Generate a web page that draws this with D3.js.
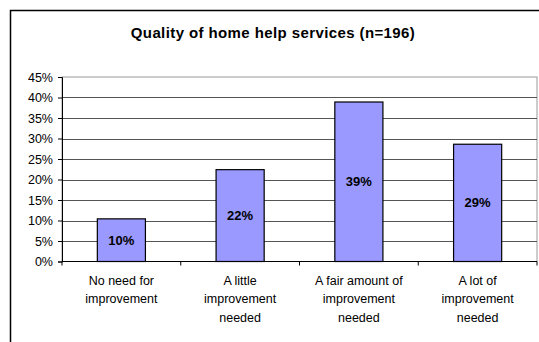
<!DOCTYPE html>
<html>
<head>
<meta charset="utf-8">
<script src="https://cdn.jsdelivr.net/npm/d3@7"></script>
<style>
  html, body { margin: 0; padding: 0; background: #fff; }
  svg { display: block; font-family: "Liberation Sans", Arial, sans-serif; }
</style>
</head>
<body>
<svg id="chart" width="539" height="342"></svg>
<script>
// Survey responses on home help services
const title = "Quality of home help services (n=196)";
const categories = [
  ["No need for", "improvement"],
  ["A little", "improvement", "needed"],
  ["A fair amount of", "improvement", "needed"],
  ["A lot of", "improvement", "needed"]
];
const shares = [0.104, 0.224, 0.389, 0.286];
const yTicks = [0, 0.05, 0.10, 0.15, 0.20, 0.25, 0.30, 0.35, 0.40, 0.45];

const svg = d3.select("#chart");
const plot = { left: 62, right: 537, top: 77, bottom: 261.5 };

// chart area frame (extends past the window on the right and bottom)
svg.append("rect")
  .attr("x", 10.5).attr("y", 10.5)
  .attr("width", 560).attr("height", 400)
  .attr("fill", "#fff").attr("stroke", "#000").attr("stroke-width", 1.5);

svg.append("text")
  .attr("x", 273).attr("y", 37.5)
  .attr("text-anchor", "middle")
  .attr("font-size", 15).attr("font-weight", "bold")
  .attr("letter-spacing", 0.4)
  .text(title);

const x = d3.scaleBand()
  .domain(d3.range(categories.length))
  .range([plot.left, plot.right]);

const y = d3.scaleLinear()
  .domain([0, 0.45])
  .range([plot.bottom, plot.top]);

// plot area border
svg.append("rect")
  .attr("x", plot.left).attr("y", plot.top)
  .attr("width", plot.right - plot.left).attr("height", plot.bottom - plot.top)
  .attr("fill", "none").attr("stroke", "#999").attr("stroke-width", 1);

// horizontal gridlines
svg.append("g")
  .selectAll("line")
  .data(yTicks.filter(t => t > 0 && t < 0.45))
  .join("line")
  .attr("x1", plot.left).attr("x2", plot.right)
  .attr("y1", d => Math.round(y(d)) + 0.5).attr("y2", d => Math.round(y(d)) + 0.5)
  .attr("stroke", "#555").attr("stroke-width", 1);

// bars
const barW = x.bandwidth() * 0.405;
svg.append("g")
  .selectAll("rect")
  .data(shares)
  .join("rect")
  .attr("x", (d, i) => x(i) + (x.bandwidth() - barW) / 2)
  .attr("y", d => y(d))
  .attr("width", barW)
  .attr("height", d => y(0) - y(d))
  .attr("fill", "#9999ff").attr("stroke", "#000").attr("stroke-width", 1.2);

// value labels centred in each bar
svg.append("g")
  .selectAll("text")
  .data(shares)
  .join("text")
  .attr("x", (d, i) => x(i) + x.bandwidth() / 2)
  .attr("y", d => (y(d) + y(0)) / 2)
  .attr("dy", "0.35em")
  .attr("text-anchor", "middle")
  .attr("font-size", 13).attr("font-weight", "bold")
  .text(d => d3.format(".0%")(d));

// y axis
const yAxis = svg.append("g")
  .attr("transform", `translate(${plot.left},0)`)
  .call(d3.axisLeft(y).tickValues(yTicks).tickFormat(d3.format(".0%")).tickSize(4).tickPadding(5));
yAxis.select(".domain").attr("stroke", "#000");
yAxis.selectAll(".tick line").attr("stroke", "#000");
yAxis.selectAll("text").attr("font-size", 12.5).attr("fill", "#000")
  .attr("font-family", "\"Liberation Sans\", Arial, sans-serif");

// x axis with category boundaries as ticks
const xAxisG = svg.append("g").attr("transform", `translate(0,${plot.bottom})`);
xAxisG.append("line")
  .attr("x1", plot.left).attr("x2", plot.right)
  .attr("y1", 0).attr("y2", 0).attr("stroke", "#000");
xAxisG.selectAll("line.tick")
  .data(d3.range(categories.length + 1))
  .join("line").attr("class", "tick")
  .attr("x1", i => i < categories.length ? x(i) : plot.right)
  .attr("x2", i => i < categories.length ? x(i) : plot.right)
  .attr("y1", 0).attr("y2", 4).attr("stroke", "#000");

const labels = xAxisG.selectAll("text.cat")
  .data(categories)
  .join("text").attr("class", "cat")
  .attr("text-anchor", "middle")
  .attr("font-size", 12.5);
labels.selectAll("tspan")
  .data((d, i) => d.map(s => ({ s, i })))
  .join("tspan")
  .attr("x", d => x(d.i) + x.bandwidth() / 2)
  .attr("y", (d, j) => 23 + j * 18.5)
  .text(d => d.s);
</script>
</body>
</html>
